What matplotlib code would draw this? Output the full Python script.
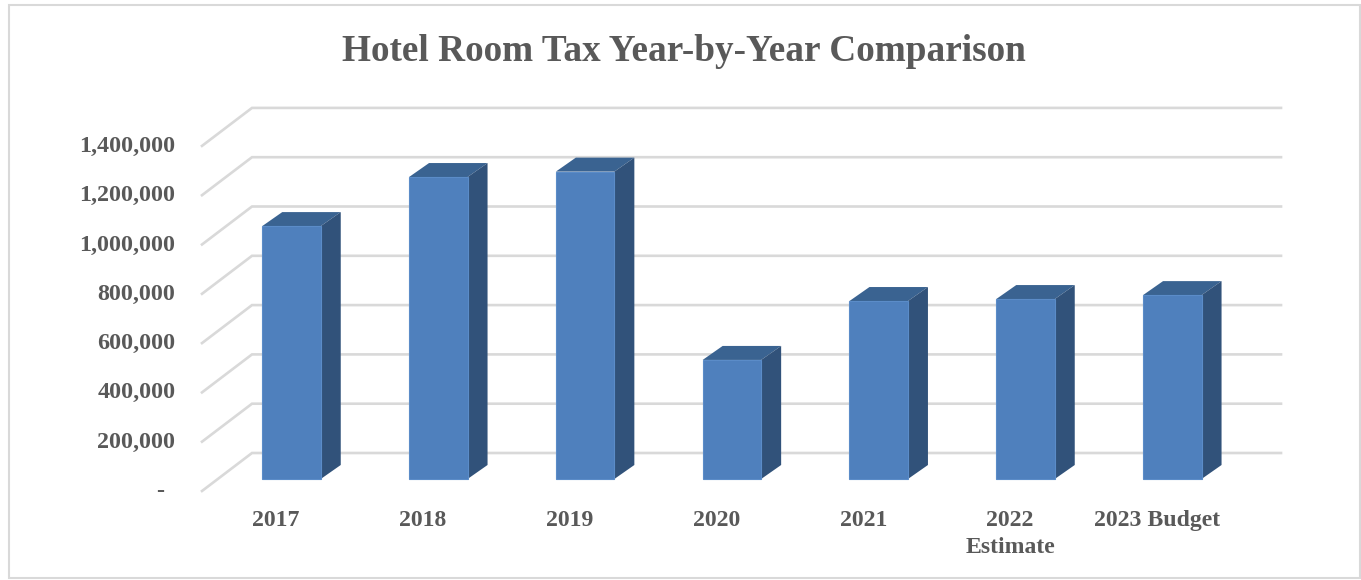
from matplotlib import pyplot as plt
from matplotlib.patches import Rectangle

years = ['2017', '2018', '2019', '2020', '2021', '2022\nEstimate', '2023 Budget']
tax = [1026000, 1225000, 1247000, 483000, 722000, 730000, 746000]
axis_values = [0, 200000, 400000, 600000, 800000, 1000000, 1200000, 1400000]
axis_labels = ['-', '200,000', '400,000', '600,000', '800,000', '1,000,000', '1,200,000', '1,400,000']

plt.rcParams['font.family'] = ['Liberation Serif', 'DejaVu Serif']
grey = '#595959'

# one axes over the whole figure, x in categories, y in dollars
step = 146.8
per_px = 200000 / 49.3
fig = plt.figure(figsize=(13.61, 5.8), dpi=100)
ax = fig.add_axes([0, 0, 1, 1])
ax.set_xlim(-291.5 / step, (1361 - 291.5) / step)
ax.set_ylim(-101 * per_px, 479 * per_px)
ax.axis('off')

# oblique offsets of the chart floor and of the bar depth
width = 58.5 / step
bar_dx, bar_dy = 20 / step, 14 * per_px
front_x, front_y = -89.5 / step, -12 * per_px
back_x, back_y = -39.5 / step, 26 * per_px
right_x = 989.5 / step

for v in axis_values:
    ax.plot([front_x, back_x, right_x], [v + front_y, v + back_y, v + back_y],
            color='#d9d9d9', lw=1.9, solid_joinstyle='miter', zorder=1)

for i, v in enumerate(tax):
    l, r = i - width / 2, i + width / 2
    ax.fill([l, r, r + bar_dx, l + bar_dx], [v, v, v + bar_dy, v + bar_dy], color='#3a6391', lw=0, zorder=2)
    ax.fill([r, r + bar_dx, r + bar_dx, r], [0, bar_dy, v + bar_dy, v], color='#31527a', lw=0, zorder=2)
    ax.bar(i, v, width=width, color='#4f80bd', edgecolor='#5b8cc8', linewidth=0.8, zorder=3)

for v, s in zip(axis_values, axis_labels):
    # the dash sits further left, like an accounting number format
    gap = 38 if s == '-' else 26.5
    ax.text(front_x - gap / step, v + front_y - 0.5 * per_px, s, ha='right', va='center',
            fontsize=17.3, fontweight='bold', color=grey)

for i, s in enumerate(years):
    ax.text(i - 15.5 / step, -31 * per_px, s, ha='center', va='top', linespacing=1.4,
            fontsize=17.1, fontweight='bold', color=grey)

ax.text(0.5025, 0.911, 'Hotel Room Tax Year-by-Year Comparison', transform=ax.transAxes,
        ha='center', va='center', fontsize=26.85, fontweight='bold', color=grey)

# chart frame
ax.add_patch(Rectangle((9 / 1361, 2 / 580), 1351 / 1361, 573 / 580, transform=ax.transAxes,
                       fill=False, edgecolor='#d9d9d9', lw=1.5, clip_on=False))

fig.savefig('out.png', dpi=100)
plt.close('all')
